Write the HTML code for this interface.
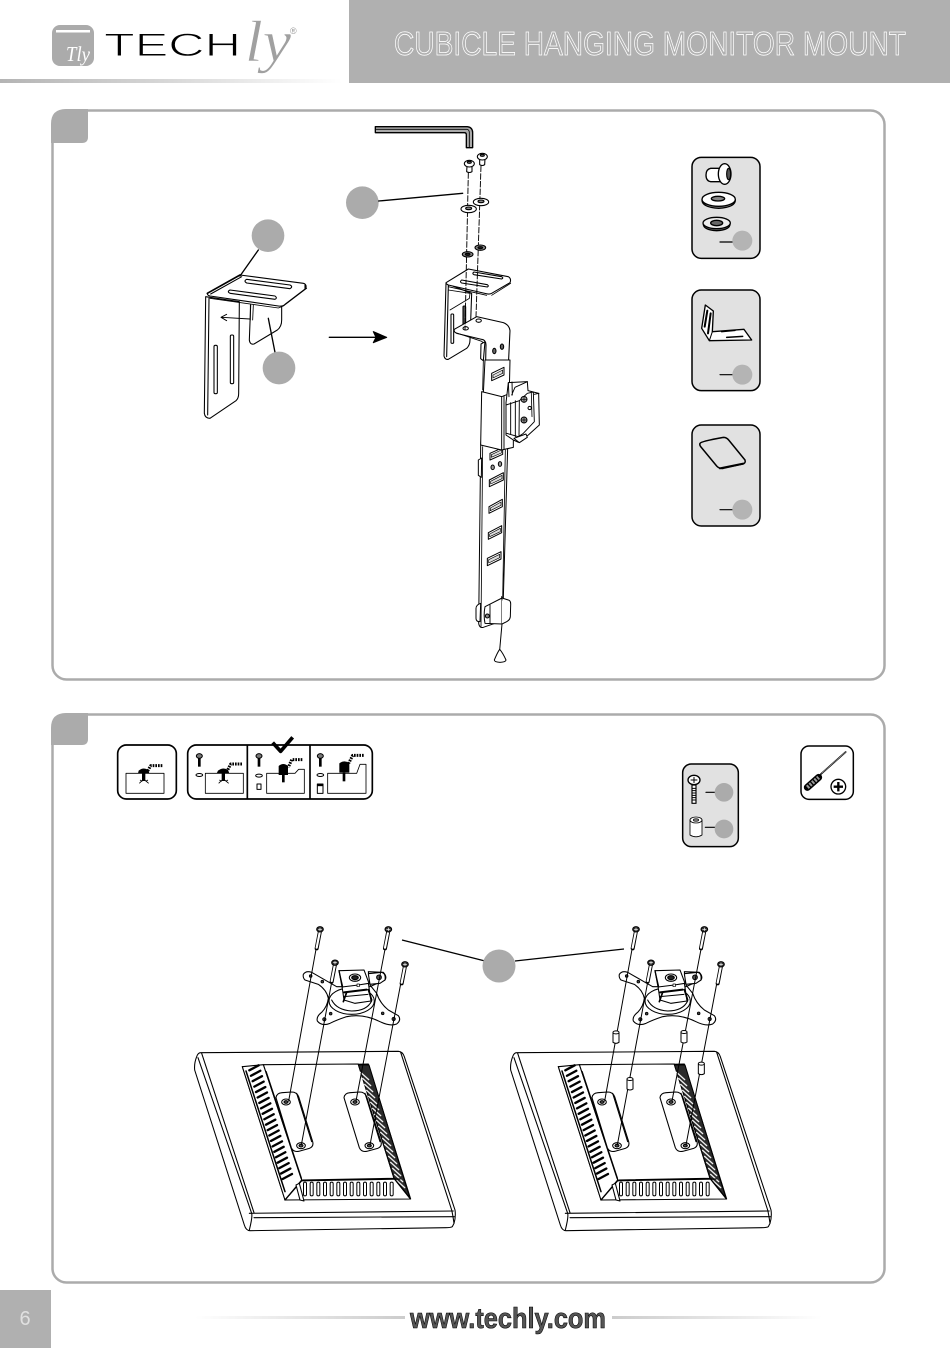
<!DOCTYPE html>
<html><head><meta charset="utf-8"><style>html,body{margin:0;padding:0;background:#fff}svg{display:block}</style></head><body>
<svg width="950" height="1348" viewBox="0 0 950 1348" xmlns="http://www.w3.org/2000/svg" font-family="'Liberation Sans',sans-serif">
<defs>
<linearGradient id="hb"><stop offset="0" stop-color="#b4b4b4"/><stop offset=".5" stop-color="#d8d8d8"/><stop offset="1" stop-color="#fff"/></linearGradient>
<linearGradient id="fl"><stop offset="0" stop-color="#fff"/><stop offset="1" stop-color="#ccc"/></linearGradient>
<linearGradient id="fr"><stop offset="0" stop-color="#ccc"/><stop offset="1" stop-color="#fff"/></linearGradient>
<g id="mscrew"><path d="M0 5L-10 57" stroke="#000" stroke-width="12"/><path d="M0 5L-10 55" stroke="#fff" stroke-width="6.5"/><ellipse cx="0" cy="0" rx="10" ry="8" fill="#333" stroke="#000" stroke-width="3"/><path d="M-5 0H5M0-4V4" stroke="#fff" stroke-width="2"/></g>
<g id="mon" fill="none" stroke="#000" stroke-width="3.2" stroke-linejoin="round" stroke-linecap="round">
<path d="M32 413L625 409Q638 410 643 425L795 885Q798 905 792 925L787 935Q782 938 767 938L180 947Q168 947 163 930L14 465Q12 445 20 425Q24 413 32 413Z" fill="#fff"/>
<path d="M24 428L185 895Q188 905 178 945M35 415L192 893M632 412L785 885Q788 897 792 925"/>
<path d="M178 895L790 888M192 908L793 905"/>
<path d="M157 455L535 447L662 852L285 855Z" fill="#fff"/>
<path d="M220 449L505 447L612 790L335 795Z" fill="#fff"/>
<path d="M157 455L220 449L335 795L285 855Z" fill="#fff"/>
<path d="M178 466l28-15m-23 31.3l28-15m-23 31.3l28-15m-23 31.3l28-15m-23 31.3l28-15m-23 31.3l28-15m-23 31.3l28-15m-23 31.3l28-15m-23 31.3l28-15m-23 31.3l28-15m-23 31.3l28-15m-23 31.3l28-15m-23 31.3l28-15m-23 31.3l28-15m-23 31.3l28-15m-23 31.3l28-15m-23 31.3l28-15m-23 31.3l28-15m-23 31.3l28-15m-23 31.3l28-15m-23 31.3l28-15" stroke-width="7"/>
<path d="M168 468L285 830" stroke-width="4.5"/>
<path d="M228 470L334 790" stroke-width="4.5"/>
<path d="M505 449L537 450L660 850L612 790Z" fill="#2a2a2a"/>
<path d="M512 472l24 22m-18-4l24 22m-18-4l24 22m-18-4l24 22m-18-4l24 22m-18-4l24 22m-18-4l24 22m-18-4l24 22m-18-4l24 22m-18-4l24 22m-18-4l24 22m-18-4l24 22m-18-4l24 22m-18-4l24 22m-18-4l24 22m-18-4l24 22m-18-4l24 22m-18-4l24 22m-18-4l24 22" stroke="#eee" stroke-width="4"/>
<path d="M345 806v32m20-32v32m20-32v32m20-32v32m20-32v32m20-32v32m20-32v32m20-32v32m20-32v32m20-32v32m20-32v32m20-32v32m20-32v32m20-32v32" stroke-width="12"/>
<path d="M345 806v32m20-32v32m20-32v32m20-32v32m20-32v32m20-32v32m20-32v32m20-32v32m20-32v32m20-32v32m20-32v32m20-32v32m20-32v32m20-32v32" stroke="#fff" stroke-width="6"/>
<path d="M335 797L630 792M335 797L285 855M612 790L660 850" stroke-width="4"/>
<path d="M318 810L328 805L342 858L330 855Z" fill="#fff"/>
<path d="M258 548Q260 534 276 533L305 531Q320 531 326 545L368 680Q372 695 358 700L326 709Q310 712 304 698Z" fill="#fff"/>
<path d="M462 548Q464 534 480 533L509 531Q524 531 530 545L573 680Q577 695 563 700L530 709Q514 712 508 698Z" fill="#fff"/>
<path d="M320 535L365 680M525 535L570 680"/>
<ellipse cx="288" cy="561" rx="13" ry="9" fill="#fff"/><ellipse cx="288" cy="561" rx="6" ry="4" fill="#555"/>
<ellipse cx="333" cy="692" rx="13" ry="9" fill="#fff"/><ellipse cx="333" cy="692" rx="6" ry="4" fill="#555"/>
<ellipse cx="495" cy="561" rx="13" ry="9" fill="#fff"/><ellipse cx="495" cy="561" rx="6" ry="4" fill="#555"/>
<ellipse cx="538" cy="692" rx="13" ry="9" fill="#fff"/><ellipse cx="538" cy="692" rx="6" ry="4" fill="#555"/>
<path d="M340 178Q348 166 365 172L440 215L540 215L585 195Q592 185 580 172L535 170L540 210L560 235Q570 265 595 285L625 302Q635 315 620 327Q600 335 570 320Q520 295 470 305Q440 315 420 325Q395 335 382 318Q378 305 395 292Q412 275 415 250Q410 225 385 208L345 195Q338 188 340 178Z" fill="#fff"/>
<ellipse cx="485" cy="258" rx="68" ry="40" fill="#fff"/><path d="M425 255Q440 285 485 288Q530 288 545 258"/>
<g fill="#444" stroke-width="2.5"><circle cx="362" cy="183" r="4"/><circle cx="397" cy="200" r="4"/><circle cx="422" cy="296" r="4"/><circle cx="403" cy="313" r="5"/><circle cx="578" cy="295" r="4"/><circle cx="611" cy="312" r="5"/><circle cx="567" cy="183" r="5"/></g>
<path d="M535 176L575 172Q588 175 585 195L570 205L540 208Z" fill="#fff"/><circle cx="567" cy="187" r="7" fill="#555"/>
<path d="M456 214L535 204L543 258L495 265L462 255Z" fill="#fff"/>
<path d="M462 232L530 224" stroke-width="6"/><path d="M462 245L534 238" stroke-width="3"/><path d="M460 260L470 232M535 224L545 255" stroke-width="5"/>
<path d="M447 167L522 165L537 205L505 210L456 216Z" fill="#fff"/><path d="M447 167L452 190L458 216" stroke-width="4"/>
<ellipse cx="495" cy="188" rx="17" ry="11" fill="#fff"/><ellipse cx="495" cy="188" rx="10" ry="6" fill="#222"/><rect x="501" y="207" width="7" height="8" fill="#fff" stroke-width="2"/>
<path d="M378 103L296 558M585 103L498 558M425 202L334 690M632 207L540 690" stroke-width="3"/>
<use href="#mscrew" x="390" y="43"/><use href="#mscrew" x="595" y="43"/><use href="#mscrew" x="435" y="143"/><use href="#mscrew" x="645" y="148"/>
</g>
<g id="sp"><path d="M-9-15V15Q0 21 9 15V-15" fill="#fff" stroke="#000" stroke-width="3"/><ellipse cx="0" cy="-15" rx="9" ry="4.5" fill="#fff" stroke="#000" stroke-width="3"/></g>
</defs>

<!-- header -->
<rect x="349" width="601" height="83" fill="#b0b0b0"/>
<rect x="0" y="79" width="342" height="4" fill="url(#hb)"/>
<rect x="52" y="25" width="42" height="41" rx="8" fill="#ababab"/>
<rect x="56" y="30" width="34" height="2.5" fill="#fff"/>
<text x="66" y="61" font-family="'Liberation Serif',serif" font-style="italic" font-size="21" fill="#fff" textLength="24" lengthAdjust="spacingAndGlyphs">Tly</text>
<text x="104" y="56" font-size="32" fill="#000" stroke="#fff" stroke-width=".9" textLength="137" lengthAdjust="spacingAndGlyphs">TECH</text>
<text x="245" y="61" font-family="'Liberation Serif',serif" font-style="italic" font-size="58" fill="#a0a0a0" stroke="#fff" stroke-width=".5" textLength="46" lengthAdjust="spacingAndGlyphs">ly</text>
<text x="290" y="34" font-size="9" fill="#999">®</text>
<text x="394" y="55" font-size="33" fill="#b0b0b0" stroke="#fff" stroke-width=".8" textLength="512" lengthAdjust="spacingAndGlyphs">CUBICLE HANGING MONITOR MOUNT</text>

<!-- panels -->
<rect x="52.5" y="110.5" width="832" height="569" rx="14" fill="#fff" stroke="#ababab" stroke-width="2.5"/>
<path d="M51 124Q51 109 66 109H88V137Q88 143 82 143H51Z" fill="#ababab"/>
<rect x="52.5" y="714.5" width="832" height="568" rx="14" fill="#fff" stroke="#ababab" stroke-width="2.5"/>
<path d="M51 728Q51 713 66 713H88V739Q88 745 82 745H51Z" fill="#ababab"/>

<!-- panel 1 main drawing -->
<g transform="translate(190 120) scale(.33333)" fill="none" stroke="#000" stroke-width="3.2" stroke-linejoin="round" stroke-linecap="round">
<path d="M556 20L832 20Q848 22 848 38L848 83L829 83L829 44Q829 38 823 38L556 38Z" fill="#aaa" stroke-width="4"/>
<path d="M556 28H832Q838 30 838 38V83" stroke-width="2.5"/>
<!-- left bracket -->
<path d="M182 555L178 660Q180 675 192 672L262 630Q275 620 275 600L275 560" fill="#fff"/>
<path d="M190 555L188 600M181 600V555" stroke-width="2.5"/>
<path d="M47 530L43 880Q45 895 60 895L138 842Q146 835 146 820L148 545Z" fill="#fff"/>
<path d="M57 535L53 885"/>
<rect x="72" y="676" width="10" height="145" rx="4" fill="#fff"/><rect x="121" y="645" width="10" height="146" rx="4" fill="#fff"/>
<path d="M52 520L150 465L340 490Q350 492 348 505L285 553Q278 560 265 558L60 528Q52 526 52 520Z" fill="#fff"/>
<path d="M52 520L150 465" stroke-width="5"/>
<path d="M62 522L155 470M345 506L345 495" />
<path d="M60 535L265 564L280 558L350 505" stroke-width="2.5"/>
<path d="M170 478L300 495Q310 500 300 506L170 489Q160 483 170 478Z" fill="#fff"/>
<path d="M120 510L255 528Q263 534 255 538L120 520Q110 515 120 510Z" fill="#fff"/>
<path d="M180 597L95 592M110 583L93 592L110 602" stroke-width="2.8"/>
<path d="M205 390L150 468M235 595L255 697" stroke-width="4"/>
<circle cx="234" cy="347" r="49" fill="#ababab" stroke="none"/><circle cx="267" cy="744" r="49" fill="#ababab" stroke="none"/>
<path d="M418 652H555" stroke-width="4"/><path d="M550 635L590 652L550 668L558 652Z" fill="#000"/>
<circle cx="517" cy="248" r="49" fill="#ababab" stroke="none"/><path d="M566 243L818 220" stroke-width="4"/>
<!-- upper right bracket -->
<path d="M768 490L762 708Q765 720 775 718L830 685Q840 675 840 660L845 520Z" fill="#fff"/>
<path d="M775 495L770 710"/>
<rect x="783" y="582" width="8" height="88" rx="3" fill="#fff"/><rect x="819" y="558" width="8" height="72" rx="3" fill="#555"/>
<path d="M775 510L840 520L838 535L780 570" stroke-width="2.5"/>
<path d="M768 488L835 447L955 470Q965 476 960 488L905 520Q898 524 888 521L775 495Q768 492 768 488Z" fill="#fff"/>
<path d="M905 526L962 490M775 500L890 526" stroke-width="2.5"/>
<path d="M852 456L935 470Q942 474 935 477L852 464Q845 460 852 456Z" fill="#fff"/>
<path d="M815 480L892 494Q898 498 892 501L815 489Q808 485 815 480Z" fill="#fff"/>
<!-- main bar top -->
<path d="M793 628L860 590L940 608Q958 615 960 632L952 800L885 820L888 675Q888 660 875 658L800 640Q790 635 793 628Z" fill="#fff"/>
<path d="M797 638L875 664Q882 668 881 680L878 810" stroke-width="2.5"/>
<path d="M873 672L885 665L880 722L872 716Z" fill="#fff"/>
<ellipse cx="913" cy="693" rx="5" ry="8" fill="#666"/><ellipse cx="936" cy="680" rx="5" ry="8" fill="#666"/>
<ellipse cx="866" cy="602" rx="8" ry="5" fill="#fff"/><ellipse cx="827" cy="625" rx="8" ry="5" fill="#fff"/>
<path d="M905 762L945 743L945 763L905 782Z" fill="#fff"/><path d="M909 766L941 751V759L909 775Z" fill="#ccc" stroke-width="2"/>
<!-- fasteners -->
<path d="M835 158L825 630M873 138L858 590" stroke-dasharray="17 6" stroke-width="2.8"/>
<path d="M831 138L830 155Q838 160 846 155L846 138Z" fill="#fff"/>
<ellipse cx="838" cy="131" rx="15" ry="10" fill="#fff"/><ellipse cx="838" cy="127" rx="6" ry="3" fill="#666"/>
<path d="M869 116L869 134Q877 139 884 134L885 116Z" fill="#fff"/>
<ellipse cx="877" cy="110" rx="15" ry="10" fill="#fff"/><ellipse cx="877" cy="106" rx="6" ry="3" fill="#666"/>
<ellipse cx="836" cy="267" rx="23" ry="11" fill="#fff"/><ellipse cx="836" cy="265" rx="9" ry="4" fill="#888"/>
<ellipse cx="873" cy="246" rx="23" ry="11" fill="#fff"/><ellipse cx="873" cy="244" rx="9" ry="4" fill="#888"/>
<ellipse cx="833" cy="403" rx="16" ry="8" fill="#888"/><ellipse cx="833" cy="403" rx="7" ry="3" fill="#222"/>
<ellipse cx="871" cy="383" rx="16" ry="8" fill="#888"/><ellipse cx="871" cy="383" rx="7" ry="3" fill="#222"/>
</g>

<!-- lower bar + clamp -->
<g transform="translate(440 360) scale(.33333)" fill="none" stroke="#000" stroke-width="3" stroke-linejoin="round" stroke-linecap="round">
<path d="M135 0L122 260L116 790Q118 805 130 802L188 782L208 90L210 0Z" fill="#fff"/>
<path d="M128 260L123 800M196 270L188 715" stroke-width="2.5"/>
<path d="M155 40L192 22V45L155 62Z" fill="#fff"/><path d="M159 45L188 30V40L159 54Z" fill="#ddd" stroke-width="2"/>
<path d="M150 280L188 263V283L150 300Z" fill="#fff"/><path d="M154 284L184 270V279L154 292Z" fill="#ddd" stroke-width="2"/>
<path d="M148 360L190 338V360L148 380Z" fill="#fff"/><path d="M152 364L186 346V356L152 372Z" fill="#ddd" stroke-width="2"/>
<path d="M147 440L187 418V440L147 460Z" fill="#fff"/><path d="M151 444L183 426V436L151 452Z" fill="#ddd" stroke-width="2"/>
<path d="M145 518L185 497V518L145 538Z" fill="#fff"/><path d="M149 522L181 505V515L149 530Z" fill="#ddd" stroke-width="2"/>
<path d="M142 595L183 575V597L142 617Z" fill="#fff"/><path d="M146 599L179 583V593L146 609Z" fill="#ddd" stroke-width="2"/>
<ellipse cx="158" cy="322" rx="5" ry="7" fill="#999"/><ellipse cx="180" cy="312" rx="5" ry="7" fill="#999"/>
<path d="M115 300L125 294L124 352L115 346Z" fill="#fff"/>
<!-- box -->
<path d="M125 95L185 110L220 96L220 262L185 270L122 255Z" fill="#fff"/>
<path d="M185 110L185 270M192 107L192 268" stroke-width="2.8"/>
<!-- clamp -->
<path d="M205 68L262 65L264 92L296 100L298 195L265 225L235 247L220 240L198 225L198 128Z" fill="#fff"/>
<path d="M205 68L207 110M216 66L217 105M262 65L225 82L215 105" stroke-width="2.8"/>
<path d="M198 135L238 122L262 100L280 96L283 185L250 220L235 230L200 220" stroke-width="2.8"/>
<path d="M238 122L237 230M226 122L226 230M212 128L212 222" stroke-width="2.8"/>
<path d="M283 103L297 100M274 100L276 170" stroke-width="2.5"/>
<circle cx="252" cy="118" r="9" fill="#999"/><path d="M245 118H259M252 111V125" stroke-width="2"/>
<circle cx="252" cy="180" r="9" fill="#999"/><path d="M245 180H259M252 173V187" stroke-width="2"/>
<circle cx="269" cy="144" r="5" fill="#fff"/>
<path d="M222 235L238 248L262 232L258 222Z" fill="#fff"/>
<!-- bottom clamp -->
<path d="M108 745Q108 735 122 730L120 785Q108 785 108 775Z" fill="#fff"/>
<path d="M135 740L186 714L186 792L135 790Q130 765 135 740Z" fill="#fff"/>
<path d="M186 714L205 720Q213 722 212 735L211 770Q210 780 200 785L186 792" fill="#fff"/>
<path d="M150 735L150 790" stroke-width="2.8"/>
<circle cx="142" cy="768" r="6" fill="#888"/>
<path d="M186 792L179 870M185 710L186 720" stroke-width="3"/>
<path d="M179 868Q172 878 163 900Q163 906 180 907Q198 906 198 900Q188 878 179 868Z" fill="#fff"/>
</g>

<!-- parts cards -->
<g transform="translate(680 150) scale(.33333)" fill="none" stroke="#000" stroke-width="3.5" stroke-linejoin="round" stroke-linecap="round">
<rect x="36" y="22" width="204" height="303" rx="28" fill="#e1e1e1" stroke-width="4.5"/>
<rect x="36" y="420" width="204" height="302" rx="28" fill="#e1e1e1" stroke-width="4.5"/>
<rect x="36" y="825" width="204" height="303" rx="28" fill="#e1e1e1" stroke-width="4.5"/>
<!-- bolt -->
<path d="M124 55H92Q78 58 78 75Q78 93 92 95H124Z" fill="#fff" stroke-width="4"/>
<ellipse cx="134" cy="72" rx="19" ry="31" fill="#fff" stroke-width="4"/><ellipse cx="146" cy="72" rx="6" ry="17" fill="#555"/>
<path d="M66 150Q66 172 116 175Q166 172 166 150" fill="#999" stroke-width="4"/>
<ellipse cx="116" cy="148" rx="50" ry="21" fill="#fff" stroke-width="4"/><ellipse cx="114" cy="146" rx="20" ry="7" fill="#888" stroke-width="4"/>
<path d="M70 222Q70 240 110 242Q150 240 150 222" fill="#777" stroke-width="4"/>
<ellipse cx="110" cy="219" rx="41" ry="17" fill="#eee" stroke-width="4"/><ellipse cx="110" cy="219" rx="18" ry="8" fill="#666" stroke-width="4"/>
<!-- L bracket -->
<path d="M76 465L100 483L97 545L192 538L215 570L88 572L65 535Z" fill="#fff" stroke-width="4"/>
<path d="M88 572L97 545" stroke-width="3"/>
<path d="M82 482L74 530M92 490L84 550" stroke-width="6"/>
<path d="M125 545L165 541M140 562L188 559" stroke-width="4.5"/>
<!-- pad -->
<path d="M60 880Q62 874 130 862Q140 862 146 870L195 930Q198 940 188 942L130 955Q118 957 110 948L62 890Q58 885 60 880Z" fill="#e1e1e1" stroke-width="4.5"/>
<path d="M120 955L190 941" stroke-width="6"/>
<path d="M120 276H160M120 674H160M120 1079H160" stroke-width="3.5"/>
<circle cx="187" cy="272" r="30" fill="#b4b4b4" stroke="none"/><circle cx="187" cy="674" r="30" fill="#b4b4b4" stroke="none"/><circle cx="187" cy="1079" r="30" fill="#b4b4b4" stroke="none"/>
</g>

<!-- screw type cards -->
<g transform="translate(110 730) scale(.33333)" fill="none" stroke="#000" stroke-width="3.5" stroke-linejoin="round">
<rect x="23" y="45" width="176" height="162" rx="26" fill="#fff" stroke-width="5"/>
<rect x="233" y="45" width="554" height="162" rx="26" fill="#fff" stroke-width="5"/>
<path d="M412 45V207M600 45V207" stroke-width="5"/>
<path d="M488 38L512 64L548 22" stroke-width="11"/>
<rect x="48" y="130" width="114" height="60" stroke-width="2.5"/>
<rect x="286" y="130" width="114" height="60" stroke-width="2.5"/>
<path d="M470 130H555L566 118H583V190H470Z" stroke-width="2.5"/>
<path d="M653 130H740L750 103H768V190H653Z" stroke-width="2.5"/>
<!-- hatch -->
<g stroke="#000" stroke-width="9" stroke-dasharray="5 3"><path d="M157 107H122L112 125"/><path d="M396 102H362L352 122"/><path d="M577 89H545L535 112"/><path d="M761 76H728L716 100"/></g>
<!-- bolts -->
<g fill="#000" stroke="none">
<path d="M86 122Q100 110 115 120L118 130H84Z"/><rect x="96" y="128" width="10" height="25"/>
<path d="M324 122Q340 110 354 120L358 130H320Z"/><rect x="335" y="128" width="10" height="25"/>
<path d="M506 108Q520 96 534 108V135H506Z"/><rect x="516" y="135" width="8" height="22"/>
<path d="M688 100Q703 88 718 100V128H688Z"/><rect x="698" y="128" width="8" height="26"/>
</g>
<path d="M88 160L98 150M116 160L104 150M90 150L97 154M114 150L107 154M326 160L336 150M356 160L344 150M328 150L335 154M354 150L347 154" stroke-width="2.5"/>
<!-- small screws -->
<g stroke-width="3"><ellipse cx="268" cy="78" rx="9" ry="7" fill="#777"/><path d="M268 85V110" stroke-width="8"/><ellipse cx="268" cy="135" rx="10" ry="4.5" fill="#fff"/>
<ellipse cx="447" cy="78" rx="9" ry="7" fill="#777"/><path d="M447 85V110" stroke-width="8"/><ellipse cx="447" cy="137" rx="10" ry="4.5" fill="#fff"/><rect x="441" y="162" width="12" height="16" fill="#fff"/>
<ellipse cx="631" cy="78" rx="9" ry="7" fill="#777"/><path d="M631 85V110" stroke-width="8"/><ellipse cx="631" cy="135" rx="10" ry="4.5" fill="#fff"/><rect x="622" y="162" width="17" height="28" fill="#fff"/><path d="M622 166H639" stroke-width="5"/></g>
</g>

<g transform="translate(670 740) scale(.33333)" fill="none" stroke="#000" stroke-width="3.5" stroke-linejoin="round" stroke-linecap="round">
<rect x="38" y="72" width="167" height="248" rx="26" fill="#e1e1e1" stroke-width="4.5"/>
<path d="M66 135V190H78V135Z" fill="#fff"/><path d="M66 145H78M66 152H78M66 159H78M66 166H78M66 173H78M66 180H78" stroke-width="3"/>
<ellipse cx="72" cy="120" rx="18" ry="14" fill="#fff" stroke-width="4"/><path d="M63 120H81M72 112V128" stroke-width="3"/>
<path d="M60 240V285Q78 296 96 285V240" fill="#fff" stroke-width="2.5"/><ellipse cx="78" cy="240" rx="18" ry="9" fill="#fff" stroke-width="2.5"/><ellipse cx="78" cy="240" rx="8" ry="4" fill="#777" stroke-width="2"/>
<path d="M108 157H134M106 262H134" stroke-width="3.5"/>
<circle cx="162" cy="157" r="28" fill="#ababab" stroke="none"/><circle cx="162" cy="267" r="28" fill="#ababab" stroke="none"/>
<rect x="393" y="18" width="157" height="160" rx="24" fill="#fff" stroke-width="4.5"/>
<path d="M453 102L527 36" stroke-width="5"/><path d="M455 100L527 36" stroke="#fff" stroke-width="1.5"/>
<path d="M412 142L446 112" stroke-width="21"/><path d="M412 142L446 112" stroke="#999" stroke-width="12" stroke-dasharray="6 4" stroke-linecap="butt"/>
<circle cx="505" cy="140" r="22" fill="#fff" stroke-width="4"/><path d="M491 140H519M505 126V154" stroke-width="7" stroke-linecap="butt"/>
</g>

<!-- monitors -->
<use href="#mon" transform="translate(190 915) scale(.33333)"/>
<use href="#mon" transform="translate(506 915) scale(.33333)"/>
<g transform="translate(506 915) scale(.33333)">
<use href="#sp" x="330" y="367" /><use href="#sp" x="534" y="366"/><use href="#sp" x="372" y="507"/><use href="#sp" x="586" y="461"/>
</g>
<path d="M402 940L485 961M515 961L624 949" stroke="#000" stroke-width="1.3" fill="none"/>
<circle cx="499" cy="966" r="16.5" fill="#ababab"/>

<!-- footer -->
<rect x="0" y="1290" width="51" height="58" fill="#b0b0b0"/>
<text x="25" y="1325" font-size="20" fill="#e0e0e0" text-anchor="middle">6</text>
<rect x="195" y="1316" width="210" height="3" fill="url(#fl)"/>
<rect x="612" y="1316" width="210" height="3" fill="url(#fr)"/>
<text x="410" y="1328" font-size="29" font-weight="bold" fill="#555" stroke="#000" stroke-width=".6" textLength="196" lengthAdjust="spacingAndGlyphs">www.techly.com</text>
</svg>
</body></html>
